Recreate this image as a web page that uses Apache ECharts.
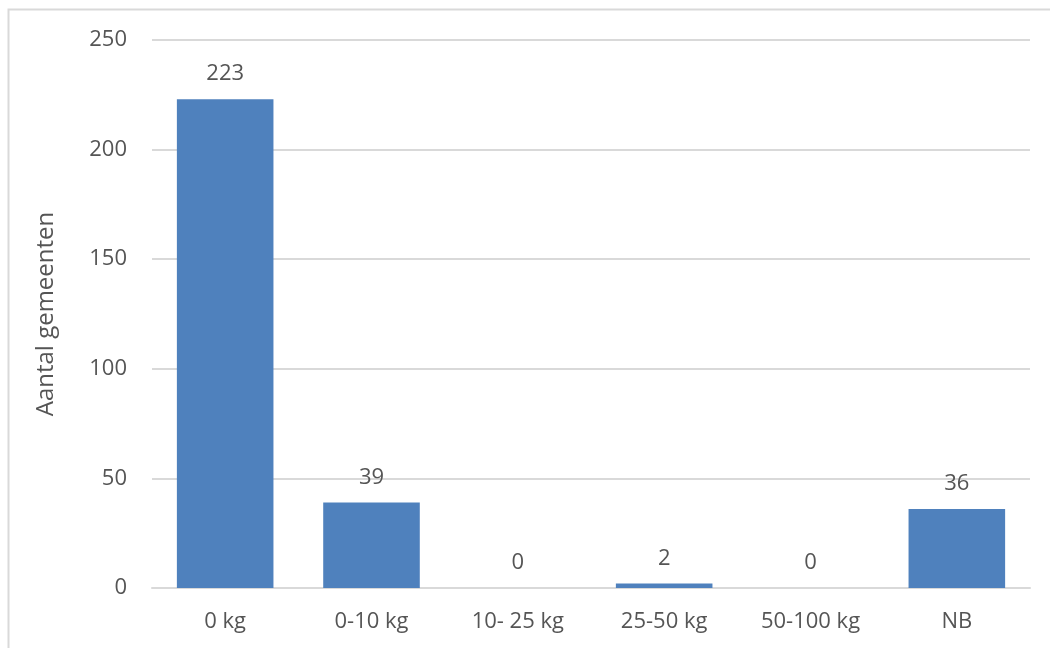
<!DOCTYPE html>
<html>
<head>
<meta charset="utf-8">
<script src="https://cdn.jsdelivr.net/npm/echarts@6/dist/echarts.min.js"></script>
<style>
  html, body { margin: 0; padding: 0; background: #fff; }
  #chart { width: 1050px; height: 648px; }
</style>
</head>
<body>
<div id="chart"></div>
<script>
// Aantal gemeenten per categorie
const categories = ['0 kg', '0-10 kg', '10- 25 kg', '25-50 kg', '50-100 kg', 'NB'];
const counts = [223, 39, 0, 2, 0, 36];
const yTicks = { min: 0, max: 250, interval: 50 };
const yAxisTitle = 'Aantal gemeenten';

const textColor = '#555555';
const fontFamily = '"Open Sans", sans-serif';

const chart = echarts.init(document.getElementById('chart'));
chart.setOption({
  animation: false,
  backgroundColor: '#ffffff',
  graphic: [{
    type: 'rect',
    shape: { x: 8.5, y: 9.5, width: 1100, height: 700 },
    style: { fill: 'none', stroke: '#d9d9d9', lineWidth: 2 },
    silent: true
  }],
  grid: { left: 152, right: 20, top: 40, bottom: 60, containLabel: false },
  xAxis: {
    type: 'category',
    data: categories,
    axisTick: { show: false },
    axisLine: { lineStyle: { color: '#d9d9d9', width: 2 } },
    axisLabel: { color: textColor, fontFamily, fontSize: 22, margin: 23 }
  },
  yAxis: {
    type: 'value',
    min: yTicks.min, max: yTicks.max, interval: yTicks.interval,
    name: yAxisTitle,
    nameLocation: 'middle',
    nameGap: 94,
    nameTextStyle: { color: textColor, fontFamily, fontSize: 24 },
    axisLine: { show: false },
    axisTick: { show: false },
    splitLine: { lineStyle: { color: '#d9d9d9', width: 2 } },
    axisLabel: { color: textColor, fontFamily, fontSize: 22, margin: 25 }
  },
  series: [{
    type: 'bar',
    data: counts,
    barCategoryGap: '34%',
    itemStyle: { color: '#4f81bd' },
    label: {
      show: true, position: 'top', distance: 14,
      color: textColor, fontFamily, fontSize: 22
    }
  }]
});
</script>
</body>
</html>
